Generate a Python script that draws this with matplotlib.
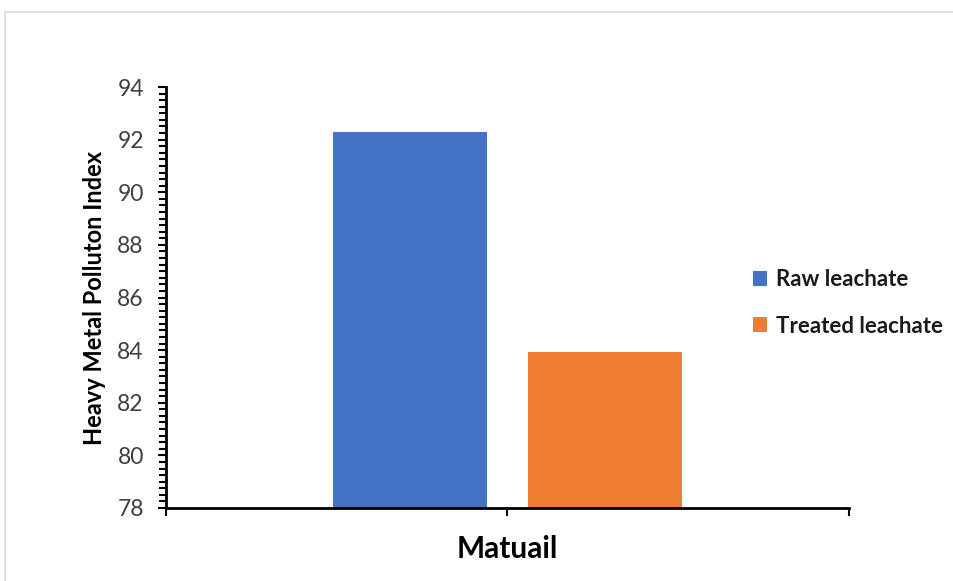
import matplotlib
matplotlib.use("Agg")
import matplotlib.pyplot as plt
from matplotlib.lines import Line2D
from matplotlib.ticker import MultipleLocator

categories = ["Matuail"]
series_names = ["Raw leachate", "Treated leachate"]
raw_values = [92.3]
treated_values = [83.93]
y_ticks = [78, 80, 82, 84, 86, 88, 90, 92, 94]

colors = ["#4472C4", "#ED7D31"]
plt.rcParams['font.family'] = ['Lato', 'DejaVu Sans']

fig = plt.figure(figsize=(9.54, 5.81), dpi=100)
ax = fig.add_axes([166/954, 1-508/581, (849-166)/954, (508-87)/581])

W, H = 954, 581
fig.add_artist(Line2D([5/W, 1.0], [1-12/H, 1-12/H], color="#d9d9d9", lw=1.2, transform=fig.transFigure))
fig.add_artist(Line2D([5/W, 5/W], [0, 1-12/H], color="#d9d9d9", lw=1.2, transform=fig.transFigure))

pos = 1.0
bw = 0.451
off = 0.2855
ax.bar([pos - off], raw_values, width=bw, color=colors[0], label=series_names[0], bottom=0)
ax.bar([pos + off], treated_values, width=bw, color=colors[1], label=series_names[1], bottom=0)

ax.set_ylim(78, 94)
ax.set_xlim(0, 2)
ax.set_yticks(y_ticks)
ax.yaxis.set_minor_locator(MultipleLocator(0.25))
ax.set_xticks([0, 1, 2])
ax.set_xticklabels([])
ax.tick_params(axis='y', which='major', direction='out', length=6, width=1.5, labelsize=16.5, labelcolor="#404040", pad=10)
ax.tick_params(axis='y', which='minor', direction='out', length=5, width=1.5)
ax.tick_params(axis='x', which='major', direction='out', length=6, width=1.5)
for s in ["top", "right"]:
    ax.spines[s].set_visible(False)
for s in ["left", "bottom"]:
    ax.spines[s].set_linewidth(2)
    ax.spines[s].set_color("black")

ax.set_ylabel("Heavy Metal Polluton Index", fontsize=17, fontweight='bold', labelpad=8)
ax.set_xlabel(categories[0], fontsize=21.5, fontweight='bold', labelpad=10)

leg = fig.legend(loc='upper left', bbox_to_anchor=(753/W, 1-269/H), frameon=False,
                 fontsize=16, handlelength=0.65, handleheight=0.65, handletextpad=0.4,
                 labelspacing=1.15, borderaxespad=0, borderpad=0)
for t in leg.get_texts():
    t.set_fontweight('bold')
    t.set_color("#1a1a1a")

fig.savefig("out.png", dpi=100)
